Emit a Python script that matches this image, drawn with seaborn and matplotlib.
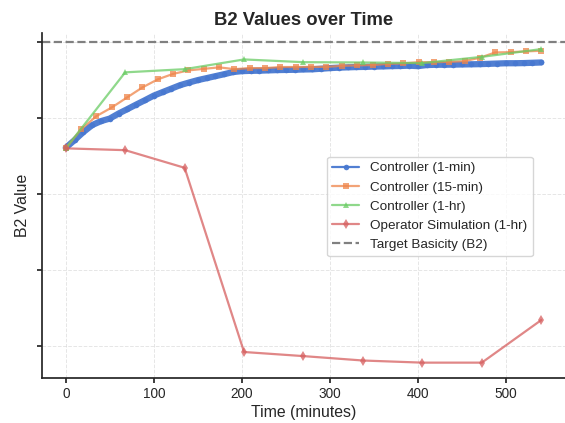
import numpy as np
import pandas as pd
import matplotlib
matplotlib.use("Agg")
import matplotlib.pyplot as plt
import seaborn as sns

# ---------------- data ----------------
time_1min = np.arange(0, 541, 10)
b2_1min = [1.1305, 1.1355, 1.1408, 1.1454, 1.1480, 1.1497, 1.1530, 1.1559, 1.1589, 1.1618,
           1.1648, 1.1671, 1.1694, 1.1717, 1.1734, 1.1750, 1.1763, 1.1776, 1.1789, 1.1803,
           1.1809, 1.1811, 1.1812, 1.1814, 1.1816, 1.1817, 1.1818, 1.1820, 1.1821, 1.1825,
           1.1829, 1.1832, 1.1834, 1.1836, 1.1837, 1.1839, 1.1840, 1.1842, 1.1843, 1.1845,
           1.1842, 1.1849, 1.1851, 1.1851, 1.1852, 1.1853, 1.1854, 1.1855, 1.1857, 1.1859,
           1.1861, 1.1861, 1.1862, 1.1864, 1.1866]

time_15min = np.linspace(0, 540, 32)
b2_15min = [1.1301, 1.1426, 1.1513, 1.1570, 1.1636, 1.1702, 1.1755, 1.1791, 1.1814, 1.1824,
            1.1834, 1.1822, 1.1829, 1.1829, 1.1836, 1.1836, 1.1837, 1.1837, 1.1844, 1.1847,
            1.1849, 1.1857, 1.1860, 1.1868, 1.1868, 1.1870, 1.1875, 1.1897, 1.1932, 1.1934,
            1.1939, 1.1943]

time_1hr = np.linspace(0, 540, 9)
b2_1hr = [1.1301, 1.1801, 1.1822, 1.1886, 1.1868, 1.1866, 1.1862, 1.1903, 1.1954]
b2_operator = [1.1301, 1.1289, 1.1173, 0.9961, 0.9934, 0.9905, 0.9891, 0.9891, 1.0171]

target_b2 = 1.20
ytick_values = [1.00, 1.05, 1.10, 1.15, 1.20]

labels = ["Controller (1-min)", "Controller (15-min)", "Controller (1-hr)",
          "Operator Simulation (1-hr)", "Target Basicity (B2)"]

# ---------------- style ----------------
sns.set_theme(style="ticks", palette="muted")
plt.rcParams["font.family"] = ["Liberation Sans", "DejaVu Sans"]
colors = sns.color_palette("muted")

fig = plt.figure(figsize=(5.65, 4.23), dpi=100)
ax = fig.add_axes([0.0743, 0.1064, 0.9257, 0.8156])

sns.lineplot(x=time_1min, y=b2_1min, ax=ax, color=colors[0], marker="o",
             markersize=4, linewidth=4.5, markeredgewidth=0, alpha=0.95,
             label=labels[0])
sns.lineplot(x=time_15min, y=b2_15min, ax=ax, color=colors[1], marker="s",
             markersize=4.5, linewidth=1.6, markeredgewidth=0, alpha=0.75,
             label=labels[1])
sns.lineplot(x=time_1hr, y=b2_1hr, ax=ax, color=colors[2], marker="^",
             markersize=5, linewidth=1.6, markeredgewidth=0, alpha=0.75,
             label=labels[2])
sns.lineplot(x=time_1hr, y=b2_operator, ax=ax, color=colors[3], marker="d",
             markersize=5, linewidth=1.6, markeredgewidth=0, alpha=0.75,
             label=labels[3])
ax.axhline(target_b2, color="gray", linestyle="--", linewidth=1.6, label=labels[4])

ax.set_xlim(-27, 567)
ax.set_ylim(0.979, 1.206)
ax.set_yticks(ytick_values)
ax.tick_params(axis="y", labelleft=False, length=3.5)
ax.set_xticks([0, 100, 200, 300, 400, 500])
ax.tick_params(axis="x", labelsize=9.8, length=3.5, pad=3)
ax.grid(True, linestyle="--", linewidth=0.7, alpha=0.5)
sns.despine(ax=ax)

ax.set_title("B2 Values over Time", fontsize=13.3, fontweight="bold", pad=6)
ax.set_xlabel("Time (minutes)", fontsize=11.4, labelpad=3)
ax.set_ylabel("B2 Value", fontsize=11.4, labelpad=5)

leg = ax.legend(loc="center right", bbox_to_anchor=(0.951, 0.497), fontsize=9.7,
                frameon=True)
leg.get_lines()[0].set_linewidth(1.6)

fig.savefig("out.png", dpi=100)
